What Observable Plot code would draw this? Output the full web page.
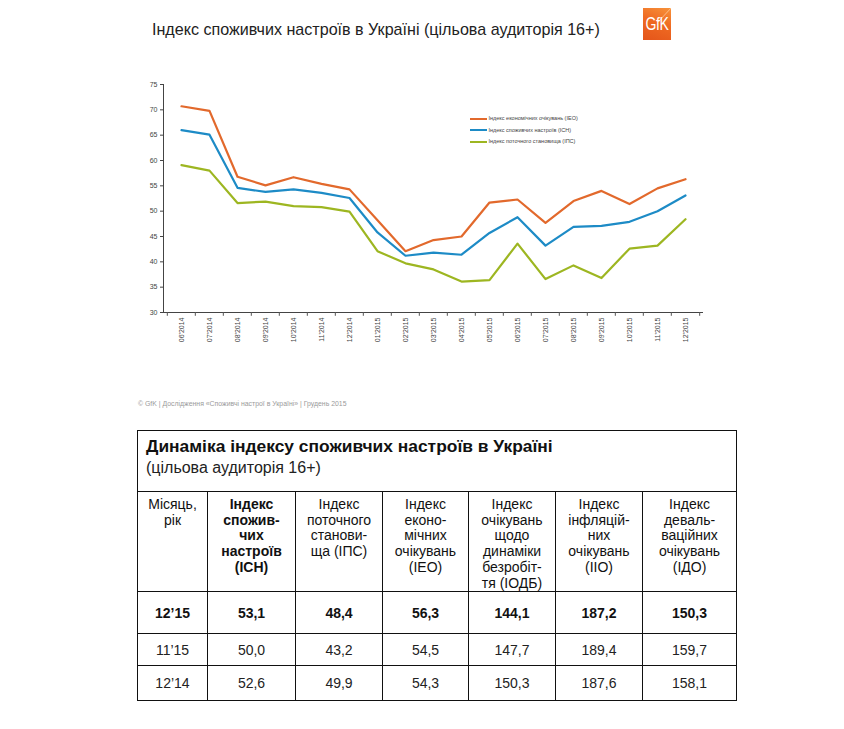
<!DOCTYPE html>
<html>
<head>
<meta charset="utf-8">
<script src="https://cdn.jsdelivr.net/npm/d3@7"></script>
<script src="https://cdn.jsdelivr.net/npm/@observablehq/plot@0.6"></script>
<style>
  html, body { margin: 0; padding: 0; background: #fff; }
  body { width: 844px; height: 729px; position: relative; overflow: hidden; font-family: "Liberation Sans", Arial, sans-serif; }
  #title { position: absolute; left: 152px; top: 20px; font-size: 16.1px; color: #222; white-space: nowrap; }
  #logo { position: absolute; left: 643px; top: 8px; width: 28px; height: 32px; background: linear-gradient(200deg, #f7923a 0%, #ef6a22 45%, #e4551a 100%); overflow: hidden; }
  #logo span { position: absolute; left: -4px; width: 36px; top: 6px; text-align: center; color: #fff; font-size: 18px; letter-spacing: -0.5px; transform: scaleX(0.78); }
  #chart { position: absolute; left: 130px; top: 70px; }
  #legend { position: absolute; left: 470px; top: 113px; font-size: 5.5px; color: #444; line-height: 11.5px; }
  #legend div { display: flex; align-items: center; white-space: nowrap; }
  #legend i { display: inline-block; width: 17px; height: 2px; margin-right: 1.5px; }
  #footer { position: absolute; left: 138px; top: 400px; font-size: 6.9px; color: #9a9a9a; white-space: nowrap; }
  #tbl { position: absolute; left: 137px; top: 430px; width: 599px; table-layout: fixed; border-collapse: collapse; font-family: Arial, "Liberation Sans", sans-serif; color: #111; }
  #tbl td, #tbl th { border: 1.5px solid #111; padding: 0; }
  #tbl .cap { height: 55px; text-align: left; vertical-align: top; padding: 5px 0 0 8px; font-weight: normal; }
  #tbl .cap b { font-size: 17.4px; display: block; line-height: 20px; }
  #tbl .cap span { font-size: 16px; display: block; line-height: 22px; margin-top: 1px; color: #222; }
  #tbl thead tr.hd th { height: 92px; vertical-align: top; font-size: 14px; line-height: 15.7px; font-weight: normal; padding-top: 5px; text-align: center; }
  #tbl thead tr.hd th.b { font-weight: bold; }
  #tbl tbody td { text-align: center; font-size: 14px; color: #222; }
  #tbl tbody tr.r0 td { height: 41px; font-weight: bold; color: #111; }
  #tbl tbody tr.r1 td { height: 31px; }
  #tbl tbody tr.r2 td { height: 34px; }
</style>
</head>
<body>
<div id="title">Індекс споживчих настроїв в Україні (цільова аудиторія 16+)</div>
<div id="logo"><svg width="28" height="32" style="position:absolute;left:0;top:0"><line x1="15" y1="14" x2="30" y2="-2" stroke="#ffd2b0" stroke-width="0.7"/></svg><span>GfK</span></div>
<div id="chart"></div>
<div id="legend"></div>
<div id="footer">© GfK | Дослідження «Споживчі настрої в Україні» | Грудень 2015</div>
<table id="tbl"></table>
<script>
// ---- chart data ----
const months = ["06'2014","07'2014","08'2014","09'2014","10'2014","11'2014","12'2014","01'2015","02'2015","03'2015","04'2015","05'2015","06'2015","07'2015","08'2015","09'2015","10'2015","11'2015","12'2015"];
const seriesNames = ["Індекс економічних  очікувань (ІЕО)", "Індекс споживчих настроїв (ІСН)", "Індекс поточного  становища (ІПС)"];
const seriesColors = ["#e2692c", "#1d8bc6", "#9db621"];
const ieo = [70.7, 69.8, 56.8, 55.1, 56.7, 55.4, 54.3, 48.2, 42.1, 44.3, 45.0, 51.7, 52.3, 47.7, 52.0, 54.0, 51.4, 54.5, 56.3];
const ich = [66.0, 65.1, 54.6, 53.8, 54.3, 53.6, 52.6, 45.8, 41.2, 41.8, 41.4, 45.7, 48.8, 43.2, 46.9, 47.1, 47.9, 50.0, 53.1];
const ips = [59.1, 58.0, 51.6, 51.9, 51.0, 50.8, 49.9, 42.1, 39.7, 38.5, 36.1, 36.4, 43.6, 36.6, 39.3, 36.8, 42.6, 43.2, 48.4];
const yTicks = [30, 35, 40, 45, 50, 55, 60, 65, 70, 75];

// ---- table data ----
const tableTitle = "Динаміка індексу споживчих настроїв в Україні";
const tableSubtitle = "(цільова аудиторія 16+)";
const tableHeaders = ["Місяць,<br>рік", "Індекс<br>спожив-<br>чих<br>настроїв<br>(ІСН)", "Індекс<br>поточного<br>станови-<br>ща (ІПС)", "Індекс<br>еконо-<br>мічних<br>очікувань<br>(ІЕО)", "Індекс<br>очікувань<br>щодо<br>динаміки<br>безробіт-<br>тя (ІОДБ)", "Індекс<br>інфляцій-<br>них<br>очікувань<br>(ІІО)", "Індекс<br>деваль-<br>ваційних<br>очікувань<br>(ІДО)"];
const tableMonths = ["12’15", "11’15", "12’14"];
const tICH  = ["53,1", "50,0", "52,6"];
const tIPS  = ["48,4", "43,2", "49,9"];
const tIEO  = ["56,3", "54,5", "54,3"];
const tIODB = ["144,1", "147,7", "150,3"];
const tIIO  = ["187,2", "189,4", "187,6"];
const tIDO  = ["150,3", "159,7", "158,1"];

// ---- build chart ----
const data = [];
[ieo, ich, ips].forEach((arr, s) => arr.forEach((v, i) => data.push({month: months[i], value: v, series: seriesNames[s]})));

const W = 590, H = 290, mL = 33, mR = 18, mT = 14, mB = 48;
const bw = (W - mL - mR) / months.length;

const chart = Plot.plot({
  width: W, height: H,
  marginLeft: mL, marginRight: mR, marginTop: mT, marginBottom: mB,
  style: {fontFamily: "'Liberation Sans', Arial, sans-serif", fontSize: "7px", color: "#444", background: "transparent"},
  x: {type: "band", domain: months, padding: 0, label: null, tickRotate: -90, tickSize: 0, tickPadding: 5, line: true},
  y: {domain: [30, 75], ticks: yTicks, tickSize: 3, tickPadding: 3, label: null, line: true},
  color: {domain: seriesNames, range: seriesColors},
  marks: [
    Plot.ruleX(months, {x: d => d, y1: 30, y2: 29.25, dx: -bw / 2, stroke: "#555"}),
    Plot.ruleX(months.slice(-1), {x: d => d, y1: 30, y2: 29.25, dx: bw / 2, stroke: "#555"}),
    Plot.lineY(data, {x: "month", y: "value", z: "series", stroke: "series", strokeWidth: 2.2, strokeLinejoin: "round"})
  ]
});
document.getElementById("chart").appendChild(chart);

// legend
const leg = document.getElementById("legend");
seriesNames.forEach((n, i) => {
  const d = document.createElement("div");
  d.innerHTML = `<i style="background:${seriesColors[i]}"></i><span></span>`;
  d.querySelector("span").textContent = n;
  leg.appendChild(d);
});

// ---- build table ----
const widths = [70, 88, 87, 86, 87, 87, 94];
const cols = [tableMonths, tICH, tIPS, tIEO, tIODB, tIIO, tIDO];
let html = `<colgroup>${widths.map(w => `<col style="width:${w}px">`).join("")}</colgroup>`;
html += `<thead><tr><th class="cap" colspan="7"><b>${tableTitle}</b><span>${tableSubtitle}</span></th></tr><tr class="hd">`;
tableHeaders.forEach((h, i) => { html += `<th class="${i === 1 ? "b" : ""}">${h}</th>`; });
html += `</tr></thead><tbody>`;
tableMonths.forEach((m, r) => {
  html += `<tr class="r${r}">` + cols.map(c => `<td>${c[r]}</td>`).join("") + `</tr>`;
});
html += `</tbody>`;
document.getElementById("tbl").innerHTML = html;
</script>
</body>
</html>
